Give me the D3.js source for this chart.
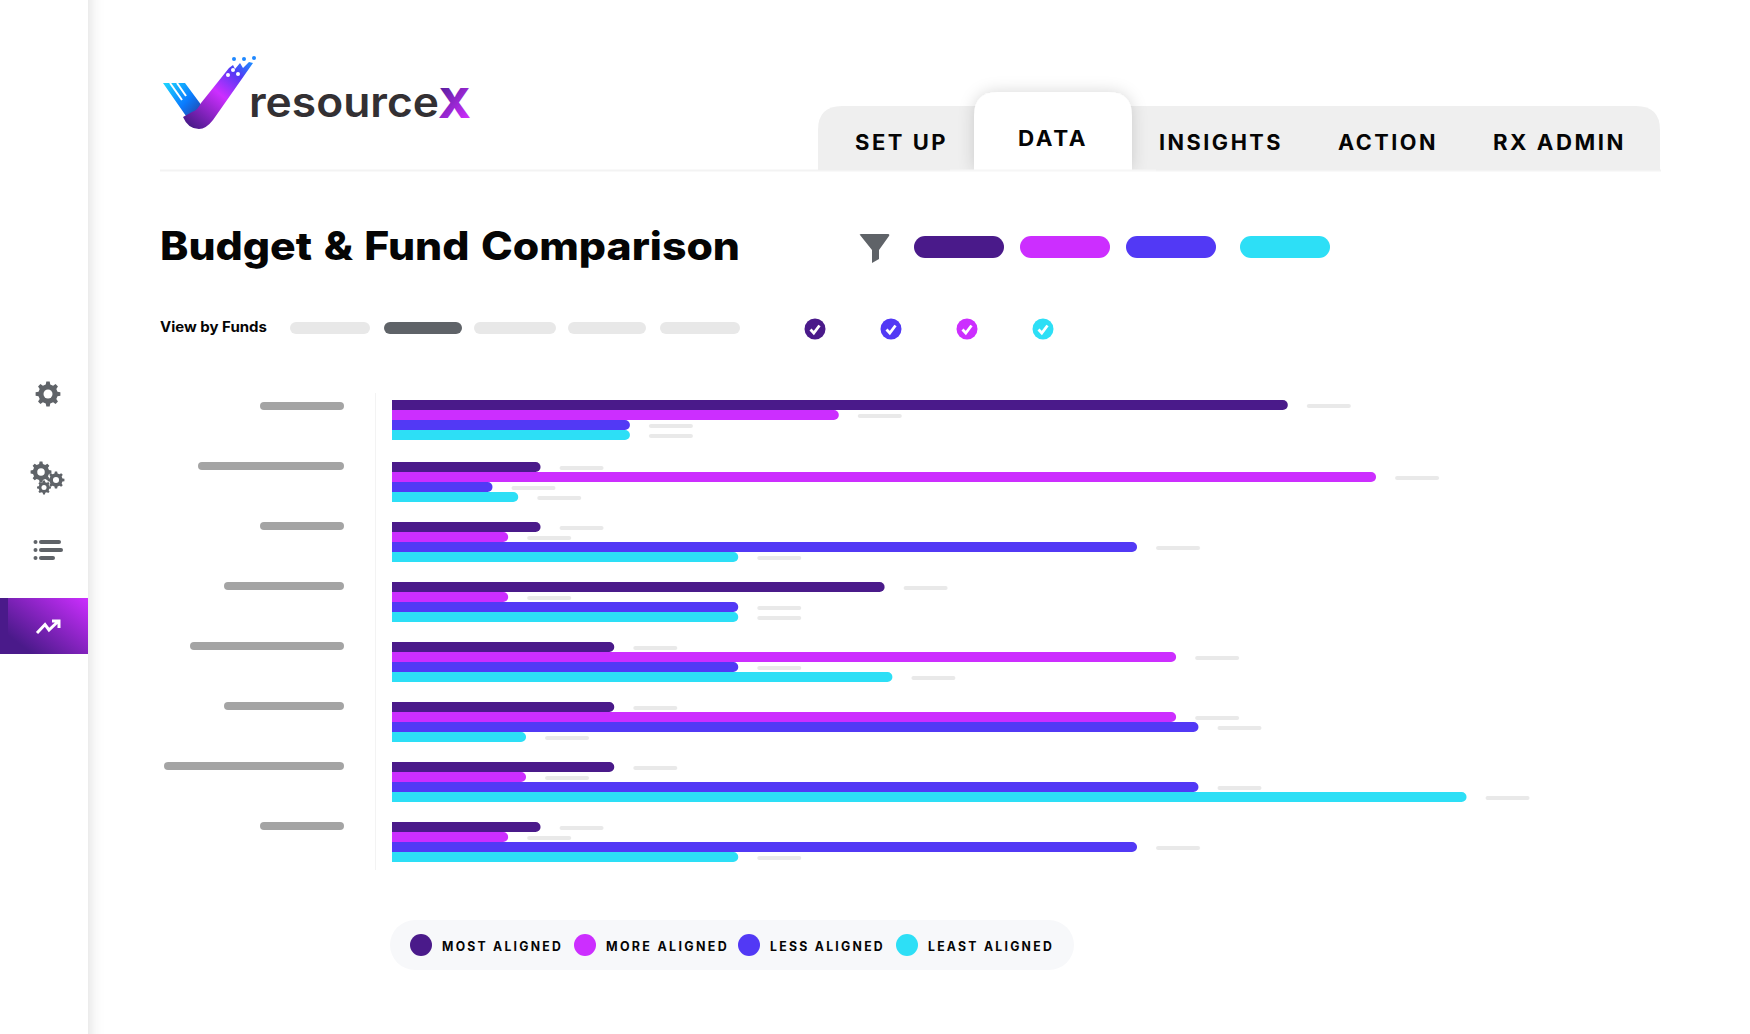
<!DOCTYPE html>
<html>
<head>
<meta charset="utf-8">
<title>Budget & Fund Comparison</title>
<script src="https://cdn.jsdelivr.net/npm/d3@7"></script>
<style>
  html, body { margin: 0; background: #fff; }
  svg { display: block; }
  text { font-family: Inter, "Open Sans", sans-serif; fill: #050505; }
</style>
</head>
<body>
<svg id="chart" width="1750" height="1034"></svg>
<script>
// fund names are greyed out in the picture, so these are only keys
const categories = ['f1', 'f2', 'f3', 'f4', 'f5', 'f6', 'f7', 'f8'];
const seriesNames = ['MOST ALIGNED', 'MORE ALIGNED', 'LESS ALIGNED', 'LEAST ALIGNED'];
const seriesColors = ['#4a1a8a', '#cc2eff', '#5239f5', '#2ddff6'];

const mostAligned = [802, 133, 133, 441, 199, 199, 199, 133];
const moreAligned = [400, 881, 104, 104, 702, 702, 120, 104];
const lessAligned = [213, 90, 667, 310, 310, 722, 722, 667];
const leastAligned = [213, 113, 310, 310, 448, 120, 962, 310];
const seriesValues = [mostAligned, moreAligned, lessAligned, leastAligned];

const labelWidths = [84, 146, 84, 120, 154, 120, 180, 84];
const tabs = ['SET UP', 'DATA', 'INSIGHTS', 'ACTION', 'RX ADMIN'];
const tabBoxes = [[855, 93], [1018, 70], [1159, 124], [1338, 100], [1493, 133]];
const viewPills = [[290, 80], [384, 78], [474, 82], [568, 78], [660, 80]];
const filterPills = [914, 1020, 1126, 1240];
const checkColors = ['#4a1a8a', '#5239f5', '#cc2eff', '#2ddff6'];
const checkX = [815, 891, 967, 1043];
const legendDots = [421, 585, 749, 907];
const legendText = [[442, 121], [606, 123], [770, 115], [928, 126]];
const iconGrey = '#5f6368';

const svg = d3.select('#chart');
const defs = svg.append('defs');

function gradient(id, x1, y1, x2, y2, stops) {
  const g = defs.append('linearGradient').attr('id', id)
    .attr('gradientUnits', 'userSpaceOnUse')
    .attr('x1', x1).attr('y1', y1).attr('x2', x2).attr('y2', y2);
  stops.forEach(s => g.append('stop').attr('offset', s[0]).attr('stop-color', s[1]));
}
gradient('activeGrad', 88, 598, 40, 660, [[0, '#cc2eff'], [1, '#4a1a8a']]);
gradient('armLeft', 165, 84, 200, 118, [[0, '#1cd2ff'], [0.55, '#0a7cff'], [1, '#28409c']]);
gradient('armRight', 195, 130, 250, 62, [[0, '#4a1a8a'], [0.5, '#cc2eff'], [0.8, '#5239f5'], [1, '#1e88ff']]);
gradient('xGrad', 439, 90, 470, 118, [[0, '#5a1fa0'], [1, '#d22eff']]);

const soft = defs.append('filter').attr('id', 'soft')
  .attr('x', '-30%').attr('y', '-30%').attr('width', '160%').attr('height', '160%');
soft.append('feDropShadow').attr('dx', 0).attr('dy', 0)
  .attr('stdDeviation', 8).attr('flood-color', '#000').attr('flood-opacity', 0.16);

// sidebar
svg.append('rect').attr('x', -20).attr('y', -20).attr('width', 108).attr('height', 1080)
  .attr('fill', '#fff').attr('filter', 'url(#soft)');
svg.append('rect').attr('x', 0).attr('y', 598).attr('width', 88).attr('height', 56)
  .attr('fill', 'url(#activeGrad)');
svg.append('rect').attr('x', 0).attr('y', 598).attr('width', 8).attr('height', 56)
  .attr('fill', '#4a1a8a');

function gearPath(r, teeth) {
  const pts = [];
  const step = Math.PI * 2 / teeth;
  for (let i = 0; i < teeth; i++) {
    const a = i * step;
    pts.push([a - step * 0.3, r * 0.78], [a - step * 0.17, r], [a + step * 0.17, r], [a + step * 0.3, r * 0.78]);
  }
  return d3.lineRadial().angle(d => d[0]).radius(d => d[1]).curve(d3.curveLinearClosed)(pts);
}
function gear(cx, cy, r) {
  const g = svg.append('g').attr('transform', `translate(${cx},${cy})`);
  g.append('path').attr('d', gearPath(r, 8)).attr('fill', iconGrey);
  g.append('circle').attr('r', r * 0.36).attr('fill', '#fff');
}
gear(48, 394, 12.5);
gear(41, 472, 10.5);
gear(56, 480, 8.5);
gear(44, 487.5, 7);

const listRows = [[542, 22], [550, 24], [558, 16]];
listRows.forEach(r => {
  svg.append('circle').attr('cx', 35.5).attr('cy', r[0]).attr('r', 2).attr('fill', iconGrey);
  svg.append('rect').attr('x', 39).attr('y', r[0] - 2).attr('width', r[1]).attr('height', 4)
    .attr('rx', 2).attr('fill', iconGrey);
});
svg.append('path').attr('d', 'M37 633 L45 624.5 L49 630 L58 621.5 M52 621 L59 621 L59 628')
  .attr('fill', 'none').attr('stroke', '#fff').attr('stroke-width', 3);

// logo
svg.append('path')
  .attr('d', 'M163 83 L185 83 L202 106 L196 126 Q190 122 186 116 Z')
  .attr('fill', 'url(#armLeft)');
svg.append('path')
  .attr('d', 'M229 68 L233 65 L235 69 L240 63 L243 68 L249 62 L253 63 L213 120 Q206 129 199 129 Q188 129 183 117 L192 112 Q198 110 201 103 Z')
  .attr('fill', 'url(#armRight)');
[[[170, 83], [182, 100]], [[177, 83], [186, 96]]].forEach(s => {
  svg.append('line').attr('x1', s[0][0]).attr('y1', s[0][1]).attr('x2', s[1][0]).attr('y2', s[1][1])
    .attr('stroke', '#fff').attr('stroke-width', 2);
});
[[228, 75], [238, 74], [233, 70]].forEach(p => {
  svg.append('circle').attr('cx', p[0]).attr('cy', p[1]).attr('r', 2).attr('fill', '#fff');
});
[[234, 59], [244, 59], [254, 58]].forEach(p => {
  svg.append('circle').attr('cx', p[0]).attr('cy', p[1]).attr('r', 2).attr('fill', '#1e88ff');
});
svg.append('text').attr('x', 249).attr('y', 117).attr('textLength', 190).attr('lengthAdjust', 'spacingAndGlyphs')
  .style('font-size', '41px').style('font-weight', 600).style('fill', '#333033').text('resource');
svg.append('text').attr('x', 438).attr('y', 118).attr('textLength', 33).attr('lengthAdjust', 'spacingAndGlyphs')
  .style('font-size', '41px').style('font-weight', 800).style('fill', 'url(#xGrad)').text('X');

// tabs
svg.append('line').attr('x1', 160).attr('x2', 1661).attr('y1', 170.5).attr('y2', 170.5)
  .attr('stroke', '#f3f3f3').attr('stroke-width', 2);
svg.append('path').attr('d', 'M818 170 V130 Q818 106 842 106 H1636 Q1660 106 1660 130 V170 Z')
  .attr('fill', '#efefef');
svg.append('path').attr('d', 'M974 170 V116 Q974 92 998 92 H1108 Q1132 92 1132 116 V170 Z')
  .attr('fill', '#fff').attr('filter', 'url(#soft)');
svg.append('rect').attr('x', 950).attr('y', 170).attr('width', 206).attr('height', 24).attr('fill', '#fff');
svg.append('line').attr('x1', 950).attr('x2', 1156).attr('y1', 170.5).attr('y2', 170.5)
  .attr('stroke', '#f6f6f6').attr('stroke-width', 2);
svg.selectAll('.tab').data(tabs).join('text').attr('class', 'tab')
  .attr('x', (d, i) => tabBoxes[i][0])
  .attr('y', (d, i) => i === 1 ? 146 : 150)
  .attr('textLength', (d, i) => tabBoxes[i][1]).attr('lengthAdjust', 'spacingAndGlyphs')
  .style('font-size', '21px').style('font-weight', 700).style('letter-spacing', '2.4px')
  .text(d => d);

// title row
svg.append('text').attr('x', 160).attr('y', 260).attr('textLength', 580).attr('lengthAdjust', 'spacingAndGlyphs')
  .style('font-size', '39px').style('font-weight', 800).style('word-spacing', '2px').text('Budget & Fund Comparison');
svg.append('path').attr('d', 'M860 235 Q859 234 861 234 H888 Q890 234 889 236 L879 250 V259 L872 263 V250 Z')
  .attr('fill', iconGrey);
svg.selectAll('.filter').data(filterPills).join('rect').attr('class', 'filter')
  .attr('x', d => d).attr('y', 236).attr('width', 90).attr('height', 22).attr('rx', 11)
  .attr('fill', (d, i) => seriesColors[i]);

// view by funds row
svg.append('text').attr('x', 160).attr('y', 332).attr('textLength', 107).attr('lengthAdjust', 'spacingAndGlyphs')
  .style('font-size', '14.5px').style('font-weight', 700).text('View by Funds');
svg.selectAll('.view').data(viewPills).join('rect').attr('class', 'view')
  .attr('x', d => d[0]).attr('y', 322).attr('width', d => d[1]).attr('height', 12).attr('rx', 6)
  .attr('fill', (d, i) => i === 1 ? iconGrey : '#e8e8e8');
checkX.forEach((cx, i) => {
  svg.append('circle').attr('cx', cx).attr('cy', 329).attr('r', 10.5).attr('fill', checkColors[i]);
  svg.append('path').attr('d', `M${cx - 4.5} 329.5 L${cx - 1.2} 333 L${cx + 4.5} 325.5`)
    .attr('fill', 'none').attr('stroke', '#fff').attr('stroke-width', 2.8);
});

// chart
const x = d3.scaleLinear().domain([0, 1000]).range([392, 1509]);
const y = d3.scaleBand().domain(categories).range([402, 862]).paddingInner(20 / 60).paddingOuter(0);
const barHeight = y.bandwidth() / 4;
// the first group sits a touch higher than the even rhythm of the rest
const groupShift = [-2, 0, 0, 0, 0, 0, 0, 0];

svg.append('line').attr('x1', 375.5).attr('x2', 375.5).attr('y1', 393).attr('y2', 870)
  .attr('stroke', '#f3f3f3').attr('stroke-width', 1);

svg.selectAll('.cat').data(categories).join('rect').attr('class', 'cat')
  .attr('x', (d, i) => 344 - labelWidths[i]).attr('y', d => y(d))
  .attr('width', (d, i) => labelWidths[i]).attr('height', 8).attr('rx', 4)
  .attr('fill', '#a4a4a4');

function barPath(v, top) {
  const x0 = x(0), x1 = x(v), r = barHeight / 2;
  return `M${x0} ${top} H${x1 - r} A${r} ${r} 0 0 1 ${x1 - r} ${top + barHeight} H${x0} Z`;
}

seriesValues.forEach((values, s) => {
  const rows = values.map((v, i) => ({ v, top: y(categories[i]) + groupShift[i] + s * barHeight }));
  svg.append('g').selectAll('path').data(rows).join('path')
    .attr('d', d => barPath(d.v, d.top))
    .attr('fill', seriesColors[s]);
  // greyed value label after each bar
  svg.append('g').selectAll('rect').data(rows).join('rect')
    .attr('x', d => x(d.v) + 19).attr('y', d => d.top + 4)
    .attr('width', 44).attr('height', 4).attr('rx', 2)
    .attr('fill', '#e9e9e9');
});

// legend
svg.append('rect').attr('x', 390).attr('y', 920).attr('width', 684).attr('height', 50).attr('rx', 25)
  .attr('fill', '#f7f8fa');
seriesNames.forEach((name, i) => {
  svg.append('circle').attr('cx', legendDots[i]).attr('cy', 945).attr('r', 11).attr('fill', seriesColors[i]);
  svg.append('text').attr('x', legendText[i][0]).attr('y', 951).attr('textLength', legendText[i][1]).attr('lengthAdjust', 'spacingAndGlyphs')
    .style('font-size', '13px').style('font-weight', 700).style('letter-spacing', '2.4px').text(name);
});
</script>
</body>
</html>
